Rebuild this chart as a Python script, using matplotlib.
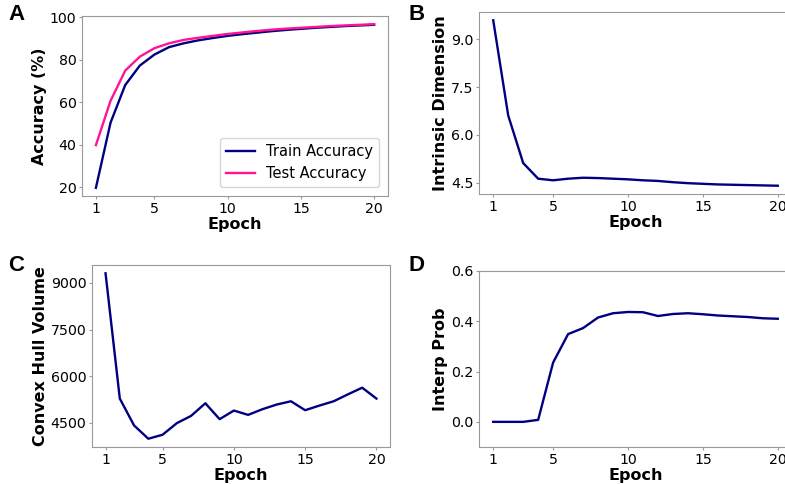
import matplotlib
matplotlib.use("Agg")
import matplotlib.pyplot as plt

epochs = list(range(1, 21))

train_acc = [19.7, 50.4, 68.1, 77.3, 82.5, 86.0, 87.8, 89.2, 90.3, 91.3,
             92.1, 92.8, 93.5, 94.1, 94.6, 95.1, 95.5, 95.9, 96.2, 96.5]
test_acc = [39.8, 60.7, 74.9, 81.5, 85.5, 87.8, 89.4, 90.4, 91.3, 92.2,
            92.9, 93.6, 94.2, 94.7, 95.1, 95.5, 95.9, 96.2, 96.5, 96.8]

intrinsic_dim = [9.59, 6.61, 5.12, 4.63, 4.58, 4.63, 4.66, 4.65, 4.63, 4.61,
                 4.58, 4.56, 4.52, 4.49, 4.47, 4.45, 4.44, 4.43, 4.42, 4.41]

hull_volume = [9309, 5279, 4415, 3988, 4116, 4489, 4723, 5128, 4617, 4894,
               4755, 4937, 5087, 5193, 4905, 5054, 5193, 5416, 5629, 5279]

interp_prob = [0.0, 0.0, 0.0, 0.008, 0.236, 0.349, 0.373, 0.415, 0.432, 0.437,
               0.436, 0.421, 0.429, 0.432, 0.428, 0.423, 0.420, 0.417, 0.412, 0.410]

NAVY = "#000080"
PINK = "#ff1493"
SPINE = "#999999"

W, H = 785, 484
fig = plt.figure(figsize=(W / 100, H / 100), dpi=100)


def make_ax(x0, y0, x1, y1):
    # pixel box (left, top, right, bottom) -> figure fraction
    ax = fig.add_axes([x0 / W, 1 - y1 / H, (x1 - x0) / W, (y1 - y0) / H])
    for s in ax.spines.values():
        s.set_color(SPINE)
    ax.tick_params(labelsize=10.2, color=SPINE, length=2.5, pad=1.5)
    ax.set_xticks([1, 5, 10, 15, 20])
    ax.set_xlabel("Epoch", fontsize=11.5, fontweight="bold", labelpad=1)
    return ax


def letter(x, y, s):
    fig.text(x / W, 1 - y / H, s, fontsize=16, fontweight="bold",
             family="Liberation Sans", va="top", ha="left")


# A
ax = make_ax(82, 16, 388, 196)
ax.plot(epochs, train_acc, color=NAVY, lw=1.7, label="Train Accuracy")
ax.plot(epochs, test_acc, color=PINK, lw=1.7, label="Test Accuracy")
ax.set_yticks([20, 40, 60, 80, 100])
ax.set_ylabel("Accuracy (%)", fontsize=11.5, fontweight="bold", labelpad=2)
ax.legend(fontsize=10.5, loc="lower right", borderaxespad=0.6)
letter(8, 4, "A")

# B
ax = make_ax(479, 12, 792, 194)
ax.plot(epochs, intrinsic_dim, color=NAVY, lw=1.7)
ax.set_yticks([4.5, 6.0, 7.5, 9.0])
ax.set_ylabel("Intrinsic Dimension", fontsize=11.5, fontweight="bold", labelpad=2)
letter(409, 4, "B")

# C
ax = make_ax(92, 265, 390, 447)
ax.plot(epochs, hull_volume, color=NAVY, lw=1.7)
ax.set_yticks([4500, 6000, 7500, 9000])
ax.set_ylabel("Convex Hull Volume", fontsize=11.5, fontweight="bold", labelpad=2)
letter(8, 255, "C")

# D
ax = make_ax(479, 271, 792, 447)
ax.plot(epochs, interp_prob, color=NAVY, lw=1.7)
ax.set_ylim(-0.1, 0.6)
ax.set_yticks([0.0, 0.2, 0.4, 0.6])
ax.set_ylabel("Interp Prob", fontsize=11.5, fontweight="bold", labelpad=2)
letter(409, 255, "D")

fig.savefig("out.png", dpi=100)
